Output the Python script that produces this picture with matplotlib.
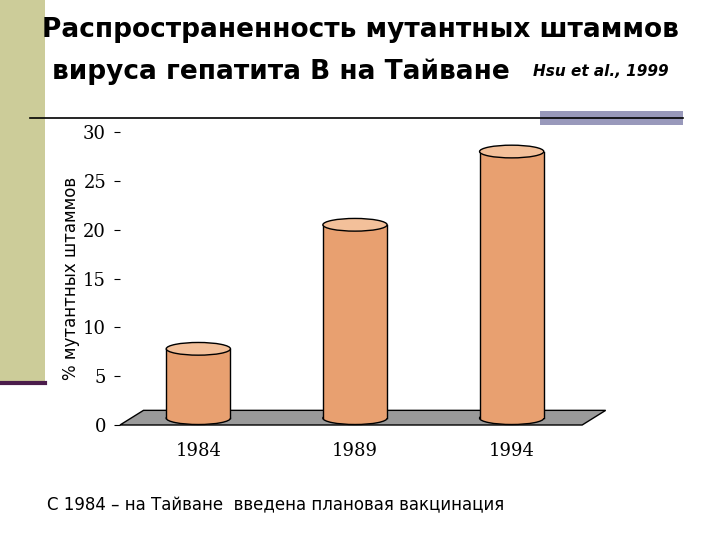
import matplotlib.pyplot as plt
from matplotlib.patches import Rectangle, Ellipse, Polygon
import numpy as np

years = ['1984', '1989', '1994']
values = [7.8, 20.5, 28.0]
yticks = [0, 5, 10, 15, 20, 25, 30]

fig = plt.figure(figsize=(7.2, 5.4), dpi=100)
fig.patch.set_facecolor('white')

# decorative frame elements
fig.patches.append(Rectangle((0, 155/540), 45/720, 385/540, transform=fig.transFigure,
                             facecolor='#cccc99', edgecolor='none'))
fig.lines.append(plt.Line2D([0, 45/720], [157/540, 157/540], transform=fig.transFigure,
                            color='#4b1c4b', lw=3))
fig.lines.append(plt.Line2D([30/720, 683/720], [422/540, 422/540], transform=fig.transFigure,
                            color='black', lw=1.2))
fig.patches.append(Rectangle((540/720, 415/540), 143/720, 14/540, transform=fig.transFigure,
                             facecolor='#9999bb', edgecolor='none'))

fig.text(0.5, 0.945, 'Распространенность мутантных штаммов', ha='center', va='center',
         fontsize=19, fontweight='bold', family='DejaVu Sans')
fig.text(0.39, 0.867, 'вируса гепатита В на Тайване', ha='center', va='center',
         fontsize=19, fontweight='bold', family='DejaVu Sans')
fig.text(0.74, 0.867, 'Hsu et al., 1999', ha='left', va='center', fontsize=11,
         fontweight='bold', style='italic', family='DejaVu Sans')

ax = fig.add_axes([120/720, 115/540, 470/720, 293/540])
ax.set_xlim(-0.5, 2.5)
ax.set_ylim(0, 30)
for s in ['top', 'right', 'bottom', 'left']:
    ax.spines[s].set_visible(False)
ax.set_yticks(yticks)
ax.set_yticklabels([str(t) for t in yticks], family='DejaVu Serif', fontsize=13)
ax.tick_params(axis='y', length=4, pad=6)
ax.set_xticks(range(len(years)))
ax.set_xticklabels(years, family='DejaVu Serif', fontsize=13)
ax.tick_params(axis='x', length=0, pad=12)
ax.set_ylabel('% мутантных штаммов', fontsize=12, labelpad=2)

# floor
floor = Polygon([(-0.5, 0), (2.45, 0), (2.6, 1.5), (-0.35, 1.5)], closed=True,
                facecolor='#9a9a9a', edgecolor='black', lw=1, clip_on=False, zorder=1)
ax.add_patch(floor)

w = 0.41
eh = 1.3
for i, v in enumerate(values):
    xc = i
    base = 0.7
    ax.add_patch(Ellipse((xc, base), w, eh, facecolor='#e8a070', edgecolor='black',
                         lw=1, zorder=2, clip_on=False))
    ax.add_patch(Rectangle((xc - w/2, base), w, v - base, facecolor='#e8a070',
                           edgecolor='none', zorder=3))
    ax.plot([xc - w/2, xc - w/2], [base, v], color='black', lw=1, zorder=4)
    ax.plot([xc + w/2, xc + w/2], [base, v], color='black', lw=1, zorder=4)
    ax.add_patch(Ellipse((xc, v), w, eh, facecolor='#f3c09a', edgecolor='black',
                         lw=1, zorder=5))

fig.text(47/720, 1 - 505/540, 'С 1984 – на Тайване  введена плановая вакцинация',
         ha='left', va='center', fontsize=12)

fig.savefig('out.png', dpi=100)
